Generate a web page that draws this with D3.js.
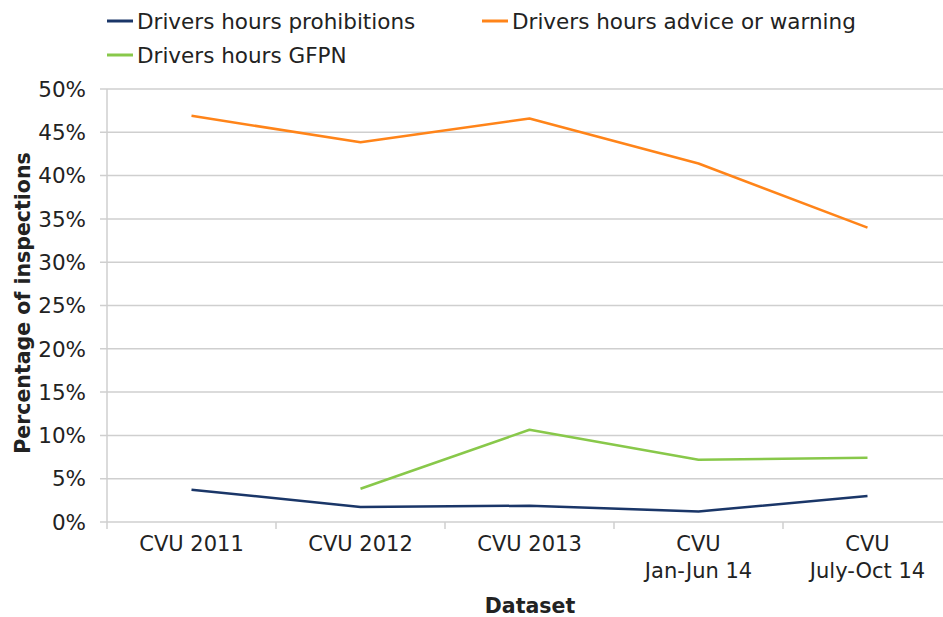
<!DOCTYPE html>
<html>
<head>
<meta charset="utf-8">
<script src="https://cdn.jsdelivr.net/npm/d3@7"></script>
<style>
  body { margin: 0; background: #fff; }
  svg text { font-family: "DejaVu Sans", Verdana, sans-serif; fill: #222; }
</style>
</head>
<body>
<svg id="chart" width="943" height="617"></svg>
<script>
const categories = [["CVU 2011"], ["CVU 2012"], ["CVU 2013"], ["CVU", "Jan-Jun 14"], ["CVU", "July-Oct 14"]];
const prohibitions = [3.73, 1.73, 1.88, 1.22, 3.0];
const advice = [46.9, 43.85, 46.6, 41.4, 34.0];
const gfpn = [null, 3.84, 10.65, 7.19, 7.42];
const yTicks = [0, 5, 10, 15, 20, 25, 30, 35, 40, 45, 50];

const series = [
    { name: "Drivers hours prohibitions", values: prohibitions, color: "#1a3668" },
    { name: "Drivers hours advice or warning", values: advice, color: "#ff8419" },
    { name: "Drivers hours GFPN", values: gfpn, color: "#88c84a" }
];

const svg = d3.select("#chart");
const plotLeft = 107, plotRight = 952, plotTop = 89, plotBottom = 522;

const x = d3.scaleBand()
    .domain(categories.map((c, i) => i))
    .range([plotLeft, plotRight]);
const y = d3.scaleLinear().domain([0, 50]).range([plotBottom, plotTop]);

// gridlines
svg.append("g")
    .selectAll("line")
    .data(yTicks)
    .enter().append("line")
    .attr("x1", plotLeft - 7)
    .attr("x2", plotRight)
    .attr("y1", d => y(d))
    .attr("y2", d => y(d))
    .attr("stroke", "#cfcfcf")
    .attr("stroke-width", 1.5);

// y axis line
svg.append("line")
    .attr("x1", plotLeft).attr("x2", plotLeft)
    .attr("y1", plotTop).attr("y2", plotBottom + 7)
    .attr("stroke", "#cfcfcf").attr("stroke-width", 1.5);

// x ticks between categories
svg.append("g")
    .selectAll("line")
    .data(categories.map((c, i) => i))
    .enter().append("line")
    .attr("x1", d => x(d) + x.bandwidth())
    .attr("x2", d => x(d) + x.bandwidth())
    .attr("y1", plotBottom)
    .attr("y2", plotBottom + 7)
    .attr("stroke", "#cfcfcf").attr("stroke-width", 1.5);

// y tick labels
svg.append("g")
    .selectAll("text")
    .data(yTicks)
    .enter().append("text")
    .attr("x", 86)
    .attr("y", d => y(d))
    .attr("dy", "0.36em")
    .attr("text-anchor", "end")
    .style("font-size", "21.5px")
    .text(d => d + "%");

// x tick labels
const xl = svg.append("g")
    .selectAll("text")
    .data(categories)
    .enter().append("text")
    .attr("x", (d, i) => x(i) + x.bandwidth() / 2)
    .attr("y", 551)
    .attr("dy", "0.36em")
    .attr("text-anchor", "middle")
    .style("font-size", "21px");
xl.selectAll("tspan")
    .data(d => d)
    .enter().append("tspan")
    .attr("x", function () { return this.parentNode.getAttribute("x"); })
    .attr("dy", (d, i) => i === 0 ? 0 : 27)
    .text(d => d);

// axis titles
svg.append("text")
    .attr("x", 530).attr("y", 606)
    .attr("dy", "0.36em")
    .attr("text-anchor", "middle")
    .style("font-size", "20.5px").style("font-weight", "bold")
    .text("Dataset");

svg.append("text")
    .attr("transform", "translate(23,303) rotate(-90)")
    .attr("dy", "0.36em")
    .attr("text-anchor", "middle")
    .style("font-size", "20.5px").style("font-weight", "bold")
    .text("Percentage of inspections");

// lines
const line = d3.line()
    .defined(d => d.v != null)
    .x(d => x(d.i) + x.bandwidth() / 2)
    .y(d => y(d.v));

svg.append("g")
    .selectAll("path")
    .data(series)
    .enter().append("path")
    .attr("d", s => line(s.values.map((v, i) => ({ v: v, i: i }))))
    .attr("fill", "none")
    .attr("stroke", s => s.color)
    .attr("stroke-width", 2.5)
    .attr("stroke-linejoin", "round");

// legend
const legendPos = [[107, 21], [482, 21], [107, 55]];
const legend = svg.append("g")
    .selectAll("g")
    .data(series)
    .enter().append("g")
    .attr("transform", (d, i) => "translate(" + legendPos[i][0] + "," + legendPos[i][1] + ")");
legend.append("line")
    .attr("x1", 0).attr("x2", 26)
    .attr("stroke", d => d.color)
    .attr("stroke-width", 3);
legend.append("text")
    .attr("x", 30)
    .attr("dy", "0.36em")
    .style("font-size", "21.5px")
    .text(d => d.name);
</script>
</body>
</html>
